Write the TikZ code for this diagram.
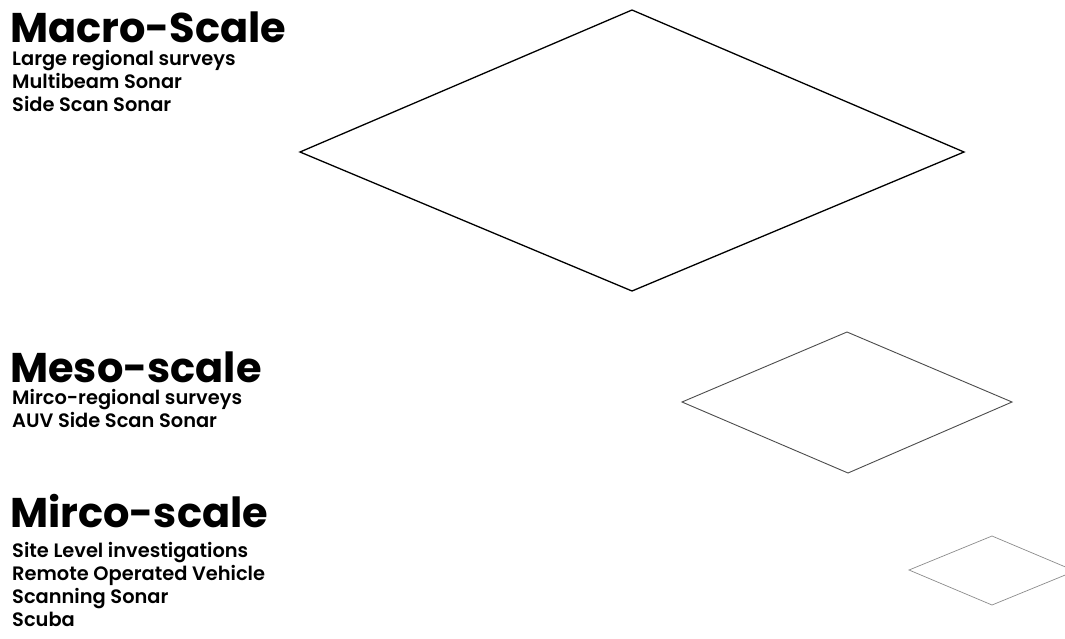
\documentclass[tikz,border=0pt]{standalone}
\usepackage{fontspec}
\setmainfont{Poppins}[UprightFont=* SemiBold, BoldFont=* Bold]
\begin{document}
\begin{tikzpicture}[x=1pt,y=-1pt,
  ttl/.style={anchor=base west,inner sep=0pt,text depth=0pt,font=\bfseries\fontsize{41.5}{41.5}\selectfont},
  sub/.style={anchor=base west,inner sep=0pt,text height=14pt,text depth=5pt,font=\fontsize{19.4}{19.4}\selectfont},
  big/.style={draw=black,line width=1.3pt,line join=miter},
  mid/.style={draw=black!70,line width=0.9pt},
  sml/.style={draw=black!45,line width=0.7pt}]
\useasboundingbox[fill=white] (0,0) rectangle (1065,638);
% titles
\node[ttl] (t1) at (10,42) {Macro-Scale};
\node[sub] (s11) at (12,65) {Large regional surveys};
\node[sub] (s12) at (12,88) {Multibeam Sonar};
\node[sub] (s13) at (12,111) {Side Scan Sonar};
\node[ttl] (t2) at (10,382) {Meso-scale};
\node[sub] (s21) at (12,404) {Mirco-regional surveys};
\node[sub] (s22) at (12,427) {AUV Side Scan Sonar};
\node[ttl] (t3) at (10,527) {Mirco-scale};
\node[sub] (s31) at (12,557) {Site Level investigations};
\node[sub] (s32) at (12,580) {Remote Operated Vehicle};
\node[sub] (s33) at (12,603) {Scanning Sonar};
\node[sub] (s34) at (12,626) {Scuba};
% diamonds
\coordinate (aT) at (632,10); \coordinate (aR) at (964,152);
\coordinate (aB) at (632,291); \coordinate (aL) at (300,152);
\draw[big] (aT) -- (aR) -- (aB) -- (aL) -- cycle;
\coordinate (bT) at (847,332); \coordinate (bR) at (1012,402);
\coordinate (bB) at (848,473); \coordinate (bL) at (682,402);
\draw[mid] (bT) -- (bR) -- (bB) -- (bL) -- cycle;
\coordinate (cT) at (992,536); \coordinate (cR) at (1075,571);
\coordinate (cB) at (992,605); \coordinate (cL) at (909,570);
\draw[sml] (cT) -- (cR) -- (cB) -- (cL) -- cycle;
\end{tikzpicture}
\end{document}
